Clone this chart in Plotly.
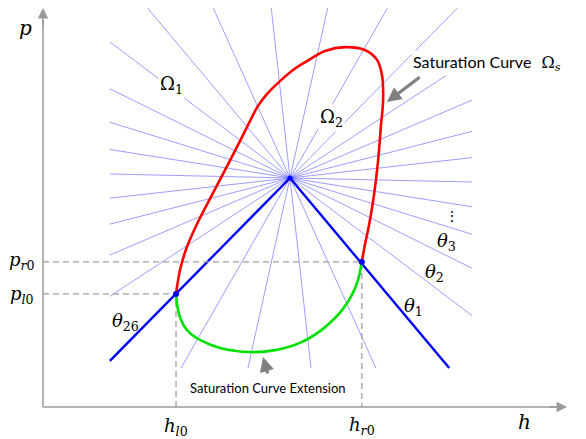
import math
import plotly.graph_objects as go

# ---------------- data (h, p units) ----------------
center_h, center_p = 6.5, 9.5
ray_angles_deg = [-62, -50, -38, -26, -14, -2, 10, 22, 34, 46, 58, 70, 82, 94, 106,
                  118, 130, 142, 154, 166, 178, 190, 202, 214, 226, 238, 250, 262, 274, 286]
thick_ray_index = [0, 25]          # theta_1 and theta_26
ray_box_h = [1.76, 11.29]
ray_box_p = [1.62, 16.55]

sat_h = [3.50, 3.605, 3.74, 3.895, 4.13, 4.447, 4.789, 5.132, 5.447, 5.658, 5.921, 6.237,
         6.579, 6.947, 7.421, 7.95, 8.47, 8.79, 8.92, 8.95, 8.89, 8.82, 8.71, 8.58, 8.47, 8.39]
sat_p = [4.69, 5.68, 6.43, 7.05, 7.84, 8.80, 9.83, 10.87, 11.86, 12.49, 13.03, 13.52,
         13.98, 14.35, 14.77, 14.93, 14.81, 14.40, 13.77, 12.74, 11.62, 10.25, 8.79, 7.55, 6.72, 6.02]

ext_h = [3.50, 3.53, 3.61, 3.79, 4.13, 4.66, 5.45, 6.11, 6.76, 7.29, 7.63, 7.87, 8.13, 8.29, 8.39]
ext_p = [4.69, 4.23, 3.69, 3.19, 2.78, 2.45, 2.28, 2.36, 2.66, 3.15, 3.61, 4.02, 4.65, 5.27, 6.02]

h_l0, p_l0 = 3.50, 4.69
h_r0, p_r0 = 8.39, 6.02

h_axis_end, p_axis_end = 13.79, 16.55
x_range = [-1.1316, 14.289]
y_range = [-1.3275, 16.884]

# ---------------- figure ----------------
fig = go.Figure()

def ray_end(ang):
    c, s = math.cos(math.radians(ang)), math.sin(math.radians(ang))
    ts = []
    if abs(c) > 1e-9:
        for hb in ray_box_h:
            t = (hb - center_h) / c
            if t > 0:
                ts.append(t)
    if abs(s) > 1e-9:
        for pb in ray_box_p:
            t = (pb - center_p) / s
            if t > 0:
                ts.append(t)
    t = min(ts)
    return center_h + t * c, center_p + t * s

thin_x, thin_y, thick_x, thick_y = [], [], [], []
for i, a in enumerate(ray_angles_deg):
    eh, ep = ray_end(a)
    if i in thick_ray_index:
        thick_x += [center_h, eh, None]
        thick_y += [center_p, ep, None]
    else:
        thin_x += [center_h, eh, None]
        thin_y += [center_p, ep, None]

fig.add_trace(go.Scatter(x=thin_x, y=thin_y, mode="lines",
                         line=dict(color="rgba(90,90,255,0.7)", width=0.85), hoverinfo="skip"))
fig.add_trace(go.Scatter(x=thick_x, y=thick_y, mode="lines",
                         line=dict(color="#0000ff", width=2.4), hoverinfo="skip"))

# dashed guides
dash_style = dict(color="#a0a0a0", width=1.3, dash="6px,4px")
fig.add_trace(go.Scatter(x=[0, h_r0, h_r0], y=[p_r0, p_r0, 0], mode="lines", line=dash_style, hoverinfo="skip"))
fig.add_trace(go.Scatter(x=[0, h_l0, h_l0], y=[p_l0, p_l0, 0], mode="lines", line=dash_style, hoverinfo="skip"))

fig.add_trace(go.Scatter(x=sat_h, y=sat_p, mode="lines",
                         line=dict(color="#ff0000", width=2.6, shape="spline", smoothing=1.0), hoverinfo="skip"))
fig.add_trace(go.Scatter(x=ext_h, y=ext_p, mode="lines",
                         line=dict(color="#00e000", width=2.6, shape="spline", smoothing=1.0), hoverinfo="skip"))

fig.add_trace(go.Scatter(x=[h_l0, h_r0], y=[p_l0, p_r0], mode="markers",
                         marker=dict(color="#0000ff", size=6), hoverinfo="skip"))
fig.add_trace(go.Scatter(x=[center_h], y=[center_p], mode="markers",
                         marker=dict(color="#0000ff", size=5), hoverinfo="skip"))

# axes with arrows
axis_gray = "#9a9a9a"
fig.add_trace(go.Scatter(x=[0, h_axis_end - 0.3], y=[0, 0], mode="lines",
                         line=dict(color=axis_gray, width=1.5), hoverinfo="skip"))
fig.add_trace(go.Scatter(x=[0, 0], y=[0, p_axis_end - 0.5], mode="lines",
                         line=dict(color=axis_gray, width=1.5), hoverinfo="skip"))

ann = []
ann.append(dict(x=h_axis_end, y=0, ax=h_axis_end - 0.5, ay=0, xref="x", yref="y", axref="x", ayref="y",
                showarrow=True, arrowhead=2, arrowsize=1.4, arrowwidth=1.5, arrowcolor=axis_gray, text=""))
ann.append(dict(x=0, y=p_axis_end, ax=0, ay=p_axis_end - 0.8, xref="x", yref="y", axref="x", ayref="y",
                showarrow=True, arrowhead=2, arrowsize=1.4, arrowwidth=1.5, arrowcolor=axis_gray, text=""))

# pointer arrows
ann.append(dict(x=9.05, y=12.65, ax=9.95, ay=13.73, xref="x", yref="y", axref="x", ayref="y",
                showarrow=True, arrowhead=2, arrowsize=0.9, arrowwidth=3.2, arrowcolor="#808080", text=""))
ann.append(dict(x=5.79, y=2.07, ax=5.92, ay=1.33, xref="x", yref="y", axref="x", ayref="y",
                showarrow=True, arrowhead=2, arrowsize=0.9, arrowwidth=3.2, arrowcolor="#808080", text=""))

serif = "DejaVu Serif, Liberation Serif, serif"
sans = "Lato, Open Sans, sans-serif"

def txt(x, y, s, size=18, fam=serif, bg=None):
    d = dict(x=x, y=y, xref="x", yref="y", text=s, showarrow=False,
             font=dict(family=fam, size=size, color="black"))
    if bg:
        d["bgcolor"] = bg
    ann.append(d)

txt(-0.47, 15.72, "<i>p</i>", 20)
txt(12.68, -0.62, "<i>h</i>", 20)
txt(h_l0, -0.85, "<i>h</i><sub><i>l</i>0</sub>", 18)
txt(h_r0, -0.78, "<i>h</i><sub><i>r</i>0</sub>", 18)
txt(-0.55, p_r0 + 0.05, "<i>p</i><sub><i>r</i>0</sub>", 18)
txt(-0.55, p_l0 - 0.05, "<i>p</i><sub><i>l</i>0</sub>", 18)
txt(3.39, 13.36, "Ω<sub>1</sub>", 18, bg="white")
txt(7.6, 11.99, "Ω<sub>2</sub>", 18, bg="white")
txt(11.68, 14.27, "<span style='font-family:Lato'>Saturation Curve</span>  Ω<sub><i>s</i></sub>", 16, bg="white")
txt(5.92, 0.79, "Saturation Curve Extension", 13, fam=sans)
txt(9.74, 4.15, "<i>θ</i><sub>1</sub>", 18)
txt(10.29, 5.56, "<i>θ</i><sub>2</sub>", 18)
txt(10.63, 6.85, "<i>θ</i><sub>3</sub>", 18)
txt(10.76, 7.92, "⋮", 14)
txt(2.16, 3.53, "<i>θ</i><sub>26</sub>", 18)

fig.update_layout(
    width=586, height=439, margin=dict(l=0, r=0, t=0, b=0),
    paper_bgcolor="white", plot_bgcolor="white", showlegend=False,
    xaxis=dict(range=x_range, visible=False, fixedrange=True),
    yaxis=dict(range=y_range, visible=False, fixedrange=True),
    annotations=ann,
)

fig.write_html("out.html", config={"displayModeBar": False},
               post_script="document.body.style.margin='0px';document.body.style.overflow='hidden';")
